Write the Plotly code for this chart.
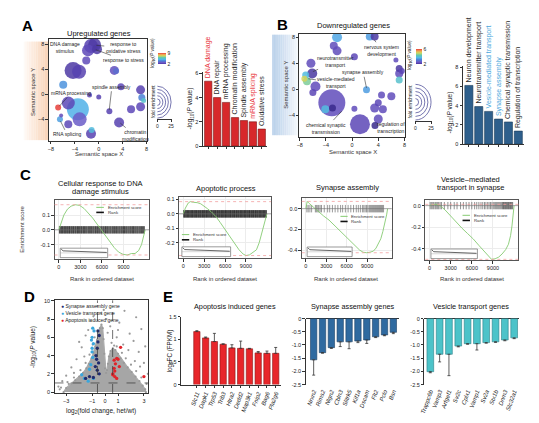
import plotly.graph_objects as go

W, H = 539, 423
FONT = "Liberation Sans, Arial, Helvetica, sans-serif"
TXT = "#222222"
AX = "#333333"

# ---------------- DATA ----------------
# Panel A: semantic bubble map of upregulated GO terms
up_x = [-1.3, -0.7, -1.8, -0.3, -2.1, -4.3, -3.3, 2.6, 2.9, -5.95, -5.1, -3.5, -3.2, -6.8, -6.5,
        -6.3, -5.1, -1.3, -1.2, -1.55, 0.0, 1.77, 3.4, 5.4, 7.0, 7.2, 7.5, 7.0, 3.7]
up_y = [7.7, 7.9, 7.0, 7.2, 5.4, 3.8, 3.6, 3.8, 3.7, 1.5, -1.4, -2.4, -4.0, -2.1, -4.0,
        -3.4, -4.8, -6.3, -5.7, -0.1, -0.45, -2.7, -4.5, -2.4, 0.7, -0.5, -1.0, -2.0, 1.2]
up_fold = [14, 13, 12, 10, 8, 17, 14, 9, 6, 8, 13, 22, 14, 6, 6,
           4, 8, 10, 6, 5, 5, 6, 10, 8, 9, 7, 5, 9, 7]
up_logp = [2.3, 2.2, 2.4, 2.2, 2.5, 2.2, 2.3, 2.6, 3.5, 4.3, 2.4, 4.8, 3.0, 9.0, 4.5,
           2.5, 2.4, 2.3, 5.2, 2.4, 2.3, 2.3, 2.3, 2.4, 2.3, 4.0, 5.5, 2.4, 2.4]
up_labels = ["DNA damage<br>stimulus", "response to<br>oxidative stress", "response to stress",
             "spindle assembly", "mRNA processing", "RNA splicing", "chromatin<br>modification"]
up_label_xy = [(-5.7, 7.45), (4.1, 7.45), (4.1, 5.5), (2.2, 1.2), (-4.6, 0.2), (-5.3, -6.4), (6.1, -6.6)]
up_label_target = [None, (-0.4, 7.8), (-0.5, 7.1), (1.75, -2.5), (-6.6, -1.9), (-6.4, -4.3), (3.6, -4.6)]

up_bar_terms = ["DNA damage", "DNA repair", "mRNA processing", "Chromatin modification",
                "Spindle assembly", "mRNA splicing", "Oxidative stress"]
up_bar_vals = [5.35, 4.0, 3.6, 2.35, 2.1, 2.0, 1.4]
up_bar_highlight = ["DNA damage", "mRNA splicing"]

# Panel B: downregulated GO terms
down_x = [-2.3, 2.7, 3.45, -2.3, -2.8, 0.35, -6.3, -6.1, -7.1, -6.9, -5.6, -6.0, -7.3, 2.2, -3.1,
          -3.0, -4.1, 0.35, 1.2, 3.45, 4.0, 4.7, 6.0, 4.5, 4.0, 3.5, 6.7, 7.2, 7.2, 7.2, 7.6]
down_y = [8.0, 8.1, 8.1, 5.9, 6.7, 5.0, 4.0, 2.4, 2.2, 1.2, 0.4, -0.5, 1.6, -0.1, -2.1,
          -2.9, -3.1, -3.0, -5.4, -2.9, -2.1, -3.1, -1.1, -0.9, -4.6, -5.6, 4.5, 3.2, 2.4, 1.4, 2.8]
down_fold = [10, 8, 8, 9, 8, 7, 9, 10, 7, 8, 10, 7, 6, 7, 27,
             7, 8, 6, 20, 9, 7, 8, 8, 7, 9, 7, 5, 7, 8, 7, 6]
down_logp = [3.5, 3.4, 2.1, 2.3, 2.3, 2.2, 2.3, 2.1, 3.8, 4.5, 2.3, 2.2, 5.0, 3.4, 2.3,
             2.0, 3.8, 2.3, 2.2, 2.3, 2.2, 2.3, 2.3, 2.3, 2.3, 2.0, 2.3, 2.1, 2.3, 4.0, 2.2]
down_labels = ["nervous system<br>development", "neurotransmitter<br>transport", "synapse assembly",
               "vesicle-mediated<br>transport", "chemical synaptic<br>transmission", "regulation of<br>transcription"]
down_label_xy = [(4.5, 6.0), (-2.5, 4.3), (1.7, 2.6), (-2.4, 1.0), (-4.0, -6.0), (5.9, -5.9)]
down_label_target = [(3.4, 7.6), (-6.0, 2.7), (2.2, 0.2), (-6.7, 1.6), (-1.6, -3.4), (3.6, -5.0)]

down_bar_terms = ["Neuron development", "Neurotransmitter transport", "Vesicle-mediated transport",
                  "Synapse assembly", "Chemical synaptic transmission", "Regulation of transcription"]
down_bar_vals = [6.1, 3.9, 3.4, 2.6, 2.3, 1.35]
down_bar_highlight = ["Vesicle-mediated transport", "Synapse assembly"]

size_legend_vals = [5, 10, 15, 20, 25]

# Panel C: GSEA running enrichment scores and hit ranks
es1_rank = [0, 300, 700, 1200, 1700, 2300, 2900, 3500, 4100, 4700, 5300, 5900, 6500, 7100, 7700,
            8300, 8900, 9500, 10100, 10600, 11100, 11500, 11800, 12000]
es1_score = [0, 0.05, 0.10, 0.14, 0.16, 0.17, 0.165, 0.145, 0.115, 0.08, 0.04, 0.0, -0.04, -0.08,
             -0.12, -0.15, -0.165, -0.17, -0.16, -0.16, -0.14, -0.10, -0.05, 0]
es2_rank = [0, 300, 700, 1000, 1500, 2000, 2500, 3000, 3500, 4000, 4700, 5300, 6000, 6700, 7400,
            8000, 8600, 9000, 9500, 10000, 10500, 10900, 11300, 11700, 12000]
es2_score = [0, 0.04, 0.075, 0.085, 0.08, 0.078, 0.07, 0.055, 0.035, 0.015, -0.02, -0.06, -0.11,
             -0.16, -0.21, -0.25, -0.28, -0.29, -0.285, -0.27, -0.25, -0.20, -0.13, -0.06, 0]
es3_rank = [0, 200, 500, 1000, 1800, 2600, 3400, 4200, 5000, 5800, 6600, 7300, 7900, 8400, 8900,
            9400, 9900, 10300, 10700, 11000, 11300, 11600, 11850, 12000]
es3_score = [0, 0.07, 0.05, 0.02, -0.03, -0.07, -0.11, -0.16, -0.21, -0.26, -0.31, -0.36, -0.40,
             -0.42, -0.425, -0.42, -0.41, -0.38, -0.33, -0.29, -0.22, -0.14, -0.06, 0]
es4_rank = [0, 400, 900, 1500, 2200, 3000, 3800, 4600, 5400, 6200, 7000, 7700, 8300, 8800, 9300,
            9800, 10300, 10800, 11200, 11500, 11700, 11900, 12000]
es4_score = [0, 0.01, 0.012, 0.0, -0.04, -0.10, -0.16, -0.21, -0.26, -0.31, -0.37, -0.42, -0.47,
             -0.50, -0.495, -0.48, -0.45, -0.41, -0.36, -0.28, -0.19, -0.08, 0]

hits1 = [80, 190, 300, 390, 520, 610, 740, 830, 950, 1040, 1170, 1260, 1380, 1490, 1580, 1720, 1810,
         1930, 2050, 2140, 2290, 2380, 2510, 2600, 2740, 2850, 2960, 3090, 3180, 3330, 3420, 3560,
         3670, 3790, 3900, 4040, 4150, 4280, 4390, 4530, 4640, 4770, 4880, 5020, 5110, 5260, 5370,
         5490, 5620, 5730, 5870, 5980, 6120, 6230, 6380, 6490, 6610, 6750, 6860, 6990, 7120, 7230,
         7380, 7490, 7620, 7750, 7860, 8010, 8120, 8250, 8380, 8490, 8630, 8740, 8880, 8990, 9130,
         9240, 9380, 9490, 9630, 9750, 9880, 9990, 10130, 10250, 10380, 10490, 10630, 10750, 10880,
         10990, 11130, 11250, 11380, 11500, 11640, 11760, 11890]
hits2 = [60, 150, 240, 350, 430, 540, 620, 730, 810, 920, 1010, 1120, 1200, 1310, 1390, 1500, 1590,
         1700, 1780, 1890, 1980, 2090, 2170, 2280, 2370, 2480, 2560, 2670, 2760, 2870, 2950, 3060,
         3150, 3260, 3340, 3450, 3540, 3650, 3730, 3840, 3930, 4040, 4120, 4230, 4320, 4430, 4510,
         4620, 4710, 4820, 4900, 5010, 5100, 5210, 5290, 5400, 5490, 5600, 5680, 5790, 5880, 5990,
         6070, 6180, 6270, 6380, 6460, 6570, 6660, 6770, 6850, 6960, 7050, 7160, 7240, 7350, 7440,
         7550, 7630, 7740, 7830, 7940, 8020, 8130, 8220, 8330, 8410, 8520, 8610, 8720, 8800, 8910,
         9000, 9110, 9190, 9300, 9390, 9500, 9580, 9690, 9780, 9890, 9970, 10080, 10170, 10280,
         10360, 10470, 10560, 10670, 10750, 10860, 10950, 11060, 11140, 11250, 11340, 11450, 11530,
         11640, 11730, 11840, 11920]
hits3 = [150, 350, 600, 850, 1400, 1550, 1750, 1900, 2100, 2300, 2700, 3200, 3500, 3900, 4300, 4700,
         5100, 5400, 5800, 6200, 6600, 7000, 7400, 7700, 8000, 8300, 8500, 8700, 8900, 9100, 9300,
         9450, 9600, 9750, 9900, 10050, 10200, 10350, 10500, 10650, 10800, 10950, 11100, 11250, 11400]
hits4 = [80, 250, 450, 600, 800, 950, 1150, 1300, 1500, 1700, 2100, 2600, 3000, 3500, 3900, 4400,
         4800, 5200, 5600, 6000, 6400, 6700, 7000, 7300, 7550, 7800, 8000, 8250, 8450, 8650, 8850,
         9050, 9250, 9400, 9550, 9700, 9850, 10000, 10150, 10300, 10400, 10500, 10600, 10700, 10800,
         10900, 11000, 11100, 11200, 11300, 11400, 11500, 11600, 11700, 11800]

gsea_titles = [["Cellular response to DNA", "damage stimulus"], ["Apoptotic process"],
               ["Synapse assembly"], ["Vesicle\u2013mediated", "transport in synapse"]]

# Panel D: volcano plot (dense cloud outline + sparse outliers + highlighted genes)
cloud_x = [-3.2, -3.0, -2.6, -2.3, -2.0, -1.7, -1.45, -1.25, -1.05, -0.9, -0.75, -0.62, -0.5, -0.4,
           -0.28, -0.18, -0.12, -0.06, 0.0, 0.08, 0.15, 0.22, 0.3, 0.42, 0.6, 0.8, 1.0, 1.2, 1.45,
           1.75, 2.05, 2.35, 2.65, 2.9, 3.1, 3.15]
cloud_y = [0.0, 0.45, 0.95, 1.3, 1.7, 2.1, 2.6, 3.1, 3.7, 4.3, 5.0, 5.7, 6.4, 7.0,
           7.4, 7.0, 5.8, 4.2, 2.6, 2.1, 2.4, 3.1, 3.9, 4.5, 4.8, 4.6, 4.2, 3.7, 3.2,
           2.7, 2.2, 1.7, 1.2, 0.7, 0.3, 0.0]
gray_x = [1.5, 2.4, 1.1, 2.8, 1.9, 0.9, 2.2, 1.4, 3.1, 0.7, 2.6, 1.8, 3.0, 2.7, 3.3, 2.3,
          -0.6, -0.3, -1.1, -0.9, -1.5, -1.8, -2.2, -2.6, -3.0, -3.3, -2.0, -1.3, -2.8, 0.1, -0.1, 0.2,
          -3.6, -3.5, 1.0, 0.4, -1.6, -2.4, -2.4, -1.9, -1.5, -1.2, -0.95, -0.8, 1.3, 1.6, 2.0,
          2.4, 2.8, 3.2, 0.5, 0.9, -2.9, -3.4]
gray_y = [8.9, 8.2, 7.6, 6.9, 6.4, 6.0, 5.6, 5.2, 5.0, 5.1, 4.4, 4.6, 3.2, 2.8, 2.0, 3.4,
          9.4, 8.6, 7.8, 8.3, 6.2, 4.9, 3.6, 2.7, 1.8, 1.2, 5.5, 6.8, 0.9, 8.0, 9.0, 6.5,
          0.6, 0.3, 6.8, 7.2, 3.9, 2.1, 1.6, 2.4, 3.2, 4.1, 5.2, 6.0, 4.3, 3.7, 3.0,
          2.3, 1.6, 0.9, 5.4, 5.0, 1.1, 0.5]
syn_pts_x = [-0.55, -0.45, -0.55, -0.6, -0.7, -0.65, -0.5, -0.75, -0.6, -0.45, -1.2, -1.5, -0.9]
syn_pts_y = [6.7, 6.2, 5.5, 4.8, 4.0, 3.6, 3.2, 2.8, 2.4, 2.0, 1.7, 1.5, 1.6]
ves_pts_x = [-0.95, -0.85, -1.0, -1.05, -0.9, -1.0, -1.0, -0.95, -1.1, -1.2, -1.8, -1.6, -0.9, -1.3]
ves_pts_y = [7.0, 6.7, 6.0, 5.7, 5.3, 4.8, 4.4, 3.8, 3.0, 2.5, 1.9, 1.5, 1.5, 1.2]
apo_pts_x = [1.2, 0.9, 0.7, 1.0, 0.8, 1.1, 0.7, 0.75, 0.6, 0.75, 0.9, 3.0, 0.6]
apo_pts_y = [4.9, 3.7, 3.5, 3.6, 3.1, 2.8, 2.6, 2.3, 1.9, 1.7, 1.5, 1.7, 2.0]
fc_cut = 0.585
p_cut = 1.0

# Panel E: fold changes
apo_genes = ["Slc11", "Dapk1", "Trp53", "Trib3", "Htra2", "Dedd2", "Map3k1", "Fnip2", "Bag6", "Pla2g6"]
apo_fc = [1.17, 1.03, 0.95, 0.89, 0.81, 0.80, 0.79, 0.70, 0.69, 0.69]
apo_err = [0.02, 0.02, 0.18, 0.01, 0.07, 0.16, 0.01, 0.03, 0.05, 0.13]
syn_genes = ["Nrxn2", "Rims2", "Nlgn2", "Cbln3", "Slitrk5", "Kif1a", "Dscam", "Flt2", "Pclo", "Bsn"]
syn_fc = [-1.56, -1.29, -1.10, -0.88, -0.88, -0.85, -0.81, -0.69, -0.62, -0.52]
syn_err = [0.58, 0.02, 0.03, 0.18, 0.26, 0.06, 0.13, 0.03, 0.03, 0.05]
ves_genes = ["Trappc6b", "Vamp3", "Arfgef1", "Sv2c", "Cplx1", "Vamp1", "Sv2a", "Stx1b", "Dnm3", "Slc32a1"]
ves_fc = [-2.01, -1.35, -1.35, -1.04, -0.95, -0.95, -0.91, -0.88, -0.81, -0.73]
ves_err = [0.04, 0.29, 0.81, 0.03, 0.02, 0.24, 0.02, 0.02, 0.03, 0.03]

# ---------------- HELPERS ----------------
fig = go.Figure()
ann, shapes, lay = [], [], {}


def xd(a, b):
    return [a / W, b / W]


def yd(top, bottom):
    return [1 - bottom / H, 1 - top / H]


def names(i):
    return ("x" if i == 1 else f"x{i}", "y" if i == 1 else f"y{i}")


def base(**kw):
    d = dict(showline=True, linecolor=AX, linewidth=0.8, ticks="outside", ticklen=2.5, tickwidth=0.7,
             tickcolor=AX, tickfont=dict(size=5.5, color=TXT, family=FONT), showgrid=False,
             zeroline=False, fixedrange=True)
    d.update(kw)
    return d


def set_axes(i, xdom, ydom, xa, ya):
    xn, yn = names(i)
    xa.update(domain=xdom, anchor=yn)
    ya.update(domain=ydom, anchor=xn)
    lay["xaxis" if i == 1 else f"xaxis{i}"] = xa
    lay["yaxis" if i == 1 else f"yaxis{i}"] = ya


def txt(x, y, s, size=6, color=TXT, angle=0, xanchor="center", yanchor="middle"):
    ann.append(dict(x=x / W, y=1 - y / H, xref="paper", yref="paper", text=s, showarrow=False,
                    font=dict(size=size, color=color, family=FONT), textangle=angle,
                    xanchor=xanchor, yanchor=yanchor))


CS = [[0.0, "#3a2a8c"], [0.05, "#5c46b6"], [0.14, "#6c5cc8"], [0.28, "#4a7fd6"], [0.42, "#52b9ea"],
      [0.58, "#5ec9b0"], [0.74, "#cfd85e"], [0.87, "#f0a050"], [1.0, "#e8403a"]]

# gradient strips behind the bubble maps
for k in range(14):
    a0 = 12 + k * 25 / 14
    shapes.append(dict(type="rect", xref="paper", yref="paper", x0=a0 / W, x1=(a0 + 25 / 14 + 0.3) / W,
                       y0=1 - 131 / H, y1=1 - 31 / H, line=dict(width=0), layer="below",
                       fillcolor=f"rgba(242,170,115,{0.06 + 0.03 * k:.3f})"))
    b0 = 263 + k * 27 / 14
    shapes.append(dict(type="rect", xref="paper", yref="paper", x0=b0 / W, x1=(b0 + 27 / 14 + 0.3) / W,
                       y0=1 - 126 / H, y1=1 - 24 / H, line=dict(width=0), layer="below",
                       fillcolor=f"rgba(120,165,215,{0.45 - 0.031 * k:.3f})"))


def bubble_panel(i, xs, ys, fold, logp, xdom, ydom, xr, yr, cmin, cmax, cb, labels, lxy, targets):
    xn, yn = names(i)
    order = sorted(range(len(xs)), key=lambda j: -fold[j])
    fig.add_trace(go.Scatter(
        x=[xs[j] for j in order], y=[ys[j] for j in order], mode="markers", xaxis=xn, yaxis=yn,
        marker=dict(size=[fold[j] for j in order], sizemode="diameter", sizeref=1,
                    color=[logp[j] for j in order], colorscale=CS, cmin=cmin, cmax=cmax, opacity=0.85,
                    line=dict(width=0), showscale=True, colorbar=cb),
        showlegend=False, hoverinfo="skip"))
    set_axes(i, xdom, ydom,
             base(range=xr, tickvals=[-8, -4, 0, 4, 8], mirror=True),
             base(range=yr, tickvals=[-4, 0, 4, 8], mirror=True))
    for lab, (tx, ty), tg in zip(labels, lxy, targets):
        if tg is None:
            ann.append(dict(x=tx, y=ty, xref=xn, yref=yn, text=lab, showarrow=False,
                            font=dict(size=5, color=TXT, family=FONT)))
        else:
            ann.append(dict(x=tg[0], y=tg[1], ax=tx, ay=ty, xref=xn, yref=yn, axref=xn, ayref=yn,
                            text=lab, showarrow=True, arrowhead=0, arrowwidth=0.6, arrowcolor="#333",
                            standoff=0, font=dict(size=5, color=TXT, family=FONT)))


def colorbar(xp, ytop, length, thick, vmin, vmax):
    return dict(x=xp / W, xanchor="left", y=1 - ytop / H, yanchor="top", len=length, lenmode="pixels",
                thickness=thick, thicknessmode="pixels", tickvals=[vmin, vmax],
                ticktext=[str(vmin), str(vmax)], ticks="", tickfont=dict(size=5, color=TXT, family=FONT),
                outlinewidth=0, xpad=0, ypad=0, ticklabelposition="outside")


def size_legend(i, xdom, ydom):
    xn, yn = names(i)
    set_axes(i, xdom, ydom,
             base(range=[0, 27], tickvals=[0, 25], ticklen=2, tickfont=dict(size=5, color=TXT, family=FONT)),
             dict(range=[-27, 27], visible=False, fixedrange=True))
    fig.add_trace(go.Scatter(x=[0], y=[0], mode="markers", marker=dict(size=0.1, opacity=0),
                             xaxis=xn, yaxis=yn, showlegend=False, hoverinfo="skip"))
    for r in size_legend_vals:
        shapes.append(dict(type="circle", xref=xn, yref=yn, x0=-r, x1=r, y0=-r, y1=r,
                           line=dict(color="#3b3b8e", width=0.7)))


def term_bars(i, terms, vals, highlight, color, edge, hl_color, xdom, ydom, ymax, ytick):
    xn, yn = names(i)
    idx = list(range(len(terms)))
    fig.add_trace(go.Bar(
        x=idx, y=vals, xaxis=xn, yaxis=yn, width=0.82,
        marker=dict(color=color, line=dict(color=edge, width=0.6)),
        text=terms, textposition="outside", textangle=-90, constraintext="none", cliponaxis=False,
        textfont=dict(size=7, family=FONT, color=[hl_color if t in highlight else "#2a2a2a" for t in terms]),
        showlegend=False, hoverinfo="skip"))
    set_axes(i, xdom, ydom,
             base(range=[-0.6, len(terms) - 0.4], tickvals=idx, showticklabels=False, ticklen=2),
             base(range=[0, ymax], tickvals=ytick))


# ---------------- PANEL A ----------------
bubble_panel(1, up_x, up_y, up_fold, up_logp, xd(37.3, 136.7), yd(28.5, 131.5), [-8.35, 8.1], [-7.4, 8.8],
             2, 9, colorbar(148, 43, 11, 8, 2, 9), up_labels, up_label_xy, up_label_target)
size_legend(13, xd(147, 162), yd(75, 110))
term_bars(2, up_bar_terms, up_bar_vals, up_bar_highlight, "#d7282b", "#7a1515", "#e8343a",
          xd(193, 258), yd(62, 137), 6.1, [0, 2, 4, 6])

# ---------------- PANEL B ----------------
bubble_panel(3, down_x, down_y, down_fold, down_logp, xd(290.7, 397.5), yd(23, 128), [-8.05, 8.1],
             [-7.4, 8.55], 2, 6, colorbar(409, 39, 15, 6, 2, 6), down_labels, down_label_xy, down_label_target)
size_legend(14, xd(408, 425), yd(73, 112))
term_bars(4, down_bar_terms, down_bar_vals, down_bar_highlight, "#2e5f8c", "#1b3a57", "#4aa7dc",
          xd(456, 518), yd(56, 135), 8.1, [0, 2, 4, 6, 8])

# ---------------- PANEL C ----------------
gsea_specs = [
    (5, xd(43, 139), yd(192, 252), [-0.2, 0.2], [-0.1, 0.0, 0.1], ["-0.1", "0.0", "0.1"],
     es1_rank, es1_score, hits1, 0.025, 0.85, (0.44, 0.88)),
    (6, xd(169, 262), yd(189, 251), [-0.31, 0.115], [-0.2, -0.1, 0.0, 0.1], ["-0.2", "-0.1", "0.0", "0.1"],
     es2_rank, es2_score, hits2, 0.026, 0.85, (0.03, 0.39)),
    (7, xd(293, 384), yd(190, 251), [-0.48, 0.1], [-0.4, -0.2, 0.0], ["-0.4", "-0.2", "0.0"],
     es3_rank, es3_score, hits3, 0.036, 0.5, (0.43, 0.70)),
    (8, xd(418, 512), yd(192, 253), [-0.51, 0.05], [-0.4, -0.2, 0.0], ["-0.4", "-0.2", "0.0"],
     es4_rank, es4_score, hits4, 0.034, 0.55, (0.40, 0.75)),
]
for (i, xdom, ydom, yr, yt, ytt, er, es, hits, half, alpha, lg) in gsea_specs:
    xn, yn = names(i)
    hx, hy = [], []
    for r in hits:
        hx += [r, r, None]
        hy += [-half, half, None]
    fig.add_trace(go.Scatter(x=hx, y=hy, mode="lines", line=dict(color=f"rgba(0,0,0,{alpha})", width=0.8),
                             xaxis=xn, yaxis=yn, showlegend=False, hoverinfo="skip"))
    fig.add_trace(go.Scatter(x=er, y=es, mode="lines", line=dict(color="#86cb72", width=0.9),
                             xaxis=xn, yaxis=yn, showlegend=False, hoverinfo="skip"))
    set_axes(i, xdom, ydom,
             base(range=[-600, 12600], tickvals=[0, 3000, 6000, 9000], mirror=True, linecolor="#555",
                  showgrid=True, gridcolor="#ececec", gridwidth=0.6),
             base(range=yr, tickvals=yt, ticktext=ytt, mirror=True, linecolor="#555",
                  showgrid=True, gridcolor="#ececec", gridwidth=0.6))
    shapes.append(dict(type="line", xref=f"{xn} domain", yref=yn, x0=0, x1=1, y0=0, y1=0,
                       line=dict(color="#777", width=0.6)))
    for v in (max(es), min(es)):
        shapes.append(dict(type="line", xref=f"{xn} domain", yref=yn, x0=0, x1=1, y0=v, y1=v,
                           line=dict(color="#f2a0a0", width=0.8, dash="dot")))
    lx, ly = lg
    for k, (c, wdt, lab) in enumerate([("#86cb72", 1.0, "Enrichment score"), ("#111", 1.6, "Rank")]):
        yy = ly - k * 0.085
        shapes.append(dict(type="line", xref=f"{xn} domain", yref=f"{yn} domain", x0=lx, x1=lx + 0.08,
                           y0=yy, y1=yy, line=dict(color=c, width=wdt)))
        ann.append(dict(x=lx + 0.1, y=yy, xref=f"{xn} domain", yref=f"{yn} domain", text=lab,
                        showarrow=False, xanchor="left", yanchor="middle",
                        font=dict(size=4.3, color="#333", family=FONT)))
    bx0, bx1, by0, by1 = (0.03 if i == 6 else 0.06), 0.56, 0.03, 0.19
    bm = (by0 + by1) / 2
    shapes.append(dict(type="rect", xref=f"{xn} domain", yref=f"{yn} domain", x0=bx0, x1=bx1,
                       y0=by0, y1=by1, fillcolor="white", line=dict(color="#555", width=0.6)))
    shapes.append(dict(type="line", xref=f"{xn} domain", yref=f"{yn} domain", x0=bx0, x1=bx1,
                       y0=bm, y1=bm, line=dict(color="#999", width=0.4)))
    shapes.append(dict(type="path", xref=f"{xn} domain", yref=f"{yn} domain",
                       path=f"M{bx0 + 0.01},{by1 - 0.015} L{bx0 + 0.03},{bm + 0.035} L{bx1 - 0.01},{bm + 0.008}",
                       line=dict(color="#222", width=0.7)))

for (cx, lines_y), t in zip([(90, (175, 183)), (216, (180,)), (339, (179.5,)), (464, (171, 179))], gsea_titles):
    for yy, s in zip(lines_y, t):
        txt(cx, yy, s, size=7.5, color="#111111")
for cx in (91, 215, 338, 465):
    txt(cx, 272, "Rank in ordered dataset", size=6, color="#333333")
txt(10, 221, "Enrichment score", size=6, color="#333333", angle=-90)

# ---------------- PANEL D ----------------
fig.add_trace(go.Scatter(x=cloud_x, y=cloud_y, fill="toself", fillcolor="#a6a6a6", mode="lines",
                         line=dict(color="#ababab", width=1.2), xaxis="x9", yaxis="y9",
                         showlegend=False, hoverinfo="skip"))
fig.add_trace(go.Scatter(x=gray_x + cloud_x, y=gray_y + cloud_y, mode="markers",
                         marker=dict(size=2.2, color="#9a9a9a"), xaxis="x9", yaxis="y9",
                         showlegend=False, hoverinfo="skip"))
for px_, py_, col in [(ves_pts_x, ves_pts_y, "#3aa6dc"), (syn_pts_x, syn_pts_y, "#1f2a6e"),
                      (apo_pts_x, apo_pts_y, "#e0242a")]:
    fig.add_trace(go.Scatter(x=px_, y=py_, mode="markers", marker=dict(size=3.3, color=col),
                             xaxis="x9", yaxis="y9", showlegend=False, hoverinfo="skip"))
set_axes(9, xd(43, 138), yd(293.5, 387.5),
         base(range=[-3.9, 3.35], tickvals=[-3, -1, 0, 1, 3], mirror=True),
         base(range=[-0.1, 10.05], tickvals=[0, 2, 4, 6, 8, 10], mirror=True))
for xv in (-fc_cut, fc_cut):
    shapes.append(dict(type="line", xref="x9", yref="y9 domain", x0=xv, x1=xv, y0=0, y1=1,
                       line=dict(color="#333", width=0.7, dash="dash")))
shapes.append(dict(type="line", xref="x9 domain", yref="y9", x0=0, x1=1, y0=p_cut, y1=p_cut,
                   line=dict(color="#333", width=0.7, dash="dash")))
for k, (col, lab) in enumerate([("#1f2a6e", "Synapse assembly gene"), ("#3aa6dc", "Vesicle transport gene"),
                                ("#e0242a", "Apoptosis induced gene")]):
    txt(48, 299 + 7 * k, f'<span style="color:{col}">\u25cf</span> {lab}', size=5, xanchor="left")
txt(21, 341, "-log<sub>10</sub>(<i>P</i> value)", size=6.5, angle=-90)
txt(90, 406, "log<sub>2</sub>(fold change, het/wt)", size=6.5)


# ---------------- PANEL E ----------------
def gene_bars(i, genes, fc, err, color, edge, xdom, ydom, yr, yt, ytt, up):
    xn, yn = names(i)
    idx = list(range(len(genes)))
    eb = dict(type="data", symmetric=False, array=err if up else [0] * len(err),
              arrayminus=[0] * len(err) if up else err, color="#333", thickness=0.8, width=1.5)
    fig.add_trace(go.Bar(x=idx, y=fc, xaxis=xn, yaxis=yn, width=0.72, error_y=eb,
                         marker=dict(color=color, line=dict(color=edge, width=0.6)),
                         showlegend=False, hoverinfo="skip"))
    set_axes(i, xdom, ydom,
             base(range=[idx[0] - (1.8 if up else 0.9), idx[-1] + 0.6], tickvals=idx,
                  ticktext=[f"<i>{g}</i>" for g in genes], tickangle=-70, ticklen=2 if up else 0,
                  showline=up, tickfont=dict(size=6, color=TXT, family=FONT)),
             base(range=yr, tickvals=yt, ticktext=ytt, zeroline=not up, zerolinecolor=AX, zerolinewidth=0.8))


gene_bars(10, apo_genes, apo_fc, apo_err, "#e8262a", "#8a1414", xd(171, 272), yd(310, 379),
          [0, 1.5], [0, 0.5, 1, 1.5], ["0", "0.5", "1", "1.5"], True)
gene_bars(11, syn_genes, syn_fc, syn_err, "#2f6aa0", "#1d3f63", xd(297, 391), yd(312, 379),
          [-2.5, 0], [0, -0.5, -1, -1.5, -2, -2.5], ["0", "-0.5", "-1.0", "-1.5", "-2.0", "-2.5"], False)
gene_bars(12, ves_genes, ves_fc, ves_err, "#4cc3c9", "#2a8086", xd(417, 513), yd(312, 379),
          [-2.5, 0], [0, -0.5, -1, -1.5, -2, -2.5], ["0", "-0.5", "-1.0", "-1.5", "-2.0", "-2.5"], False)
lay["xaxis12"]["range"] = [-0.64, 9.55]
txt(226, 300, "Apoptosis induced genes", size=7.3, color="#111111")
txt(345, 300, "Synapse assembly genes", size=7.3, color="#111111")
txt(464, 300, "Vesicle transport genes", size=7.3, color="#111111")
txt(160, 345, "log<sub>2</sub>FC (FPKM)", size=6.3, angle=-90)

# ---------------- A/B titles ----------------
txt(88, 23, "Upregulated genes", size=7.5, color="#111111")
txt(345, 15, "Downregulated genes", size=7.5, color="#111111")
txt(88, 145.5, "Semantic space X", size=6, color="#333333")
txt(21.5, 82, "Semantic space Y", size=6, color="#333333", angle=-90)
txt(345, 143.5, "Semantic space X", size=6, color="#333333")
txt(277, 75, "Semantic space Y", size=6, color="#333333", angle=-90)
txt(143, 42, "log<sub>10</sub>(<i>P</i> value)", size=4.8, angle=-90)
txt(143, 92, "fold enrichment", size=4.8, angle=-90)
txt(403, 45, "log<sub>10</sub>(<i>P</i> value)", size=4.8, angle=-90)
txt(403, 92, "fold enrichment", size=4.8, angle=-90)
txt(180, 99, "-log<sub>10</sub>(<i>P</i> value)", size=6.5, angle=-90)
txt(442, 103, "-log<sub>10</sub>(<i>P</i> value)", size=6.5, angle=-90)

for s, x, y in [("A", 16, 15), ("B", 274, 14), ("C", 14, 166), ("D", 18, 290), ("E", 158, 290)]:
    txt(x, y, f"<b>{s}</b>", size=15, color="#000000")

fig.update_layout(width=W, height=H, margin=dict(l=0, r=0, t=0, b=0), paper_bgcolor="white",
                  plot_bgcolor="white", font=dict(family=FONT, color=TXT), annotations=ann, shapes=shapes,
                  bargap=0.2, **lay)
fig.write_html("out.html")
